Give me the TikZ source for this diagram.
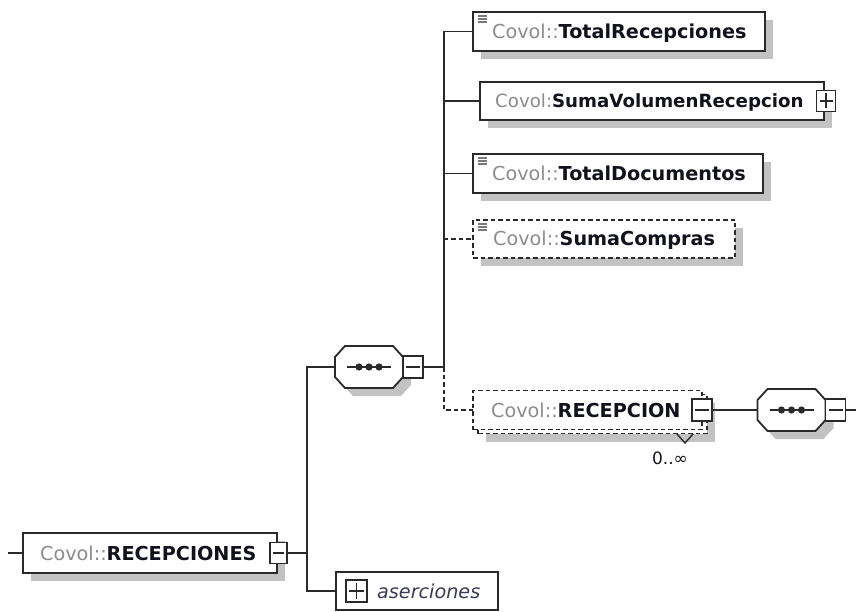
\documentclass[tikz,border=0pt]{standalone}
\usepackage{fontspec}
\setmainfont{DejaVu Sans}
\usetikzlibrary{shadows}
\definecolor{linec}{HTML}{2A2A2A}
\definecolor{shadowc}{HTML}{C2C2C2}
\definecolor{prefc}{HTML}{8C8C8C}
\definecolor{namec}{HTML}{12121C}
\definecolor{asc}{HTML}{3A3A52}
\definecolor{iconc}{HTML}{7A7A7A}
\newcommand\pfx[1]{\textcolor{prefc}{#1}}
\newcommand\elname[1]{\textcolor{namec}{\bfseries #1}}
\begin{document}
\begin{tikzpicture}[x=1pt,y=-1pt,
  conn/.style={draw=linec, line width=1.8pt},
  optline/.style={dash pattern=on 4.5pt off 3pt},
  shad/.style={drop shadow={shadow xshift=8pt, shadow yshift=-8pt, fill=shadowc, opacity=1}},
  plainbox/.style={draw=linec, fill=white, line width=1.8pt, rectangle, inner sep=0pt, outer sep=0pt},
  elbox/.style={plainbox, shad},
  optbox/.style={plainbox, optline},
  lbl/.style={anchor=base west, inner sep=0pt, font=\fontsize{19.2}{22}\selectfont},
  anchorbox/.style={rectangle, draw=none, inner sep=0pt, outer sep=0pt},
  seqshape/.style={draw=linec, fill=white, line width=1.8pt, shad},
  mbox/.style={plainbox, line width=1.6pt, minimum width=20pt, minimum height=22pt,
    path picture={\draw[linec, line width=1.4pt] ([xshift=3pt]path picture bounding box.west) -- ([xshift=-3pt]path picture bounding box.east);}},
  pbox/.style={mbox,
    path picture={\draw[linec, line width=1.4pt] ([xshift=3pt]path picture bounding box.west) -- ([xshift=-3pt]path picture bounding box.east)
      ([yshift=-3pt]path picture bounding box.north) -- ([yshift=3pt]path picture bounding box.south);}},
  iconln/.style={draw=iconc, line width=1.4pt}
]
\useasboundingbox (0,0) rectangle (856,612);

% --- element boxes ---
\node[elbox, minimum width=292pt, minimum height=39pt] (tr) at (619,31.5) {};
\node[lbl] (trt) at (492,38.5) {\pfx{Covol::}\elname{TotalRecepciones}};

\node[elbox, minimum width=344pt, minimum height=38pt] (sv) at (652,101) {};
\node[lbl, font=\fontsize{18.2}{22}\selectfont] (svt) at (495,108) {\pfx{Covol:}\elname{SumaVolumenRecepcion}};
\node[pbox, minimum width=19pt, minimum height=21pt] (svp) at (826,101) {};

\node[elbox, minimum width=290pt, minimum height=39pt] (td) at (618,173.5) {};
\node[lbl] (tdt) at (492,180.5) {\pfx{Covol::}\elname{TotalDocumentos}};

\node[optbox, shad, minimum width=262pt, minimum height=38pt] (sc) at (604,239) {};
\node[lbl] (sct) at (493,246) {\pfx{Covol::}\elname{SumaCompras}};

\node[optbox, shad, minimum width=229pt, minimum height=39pt] (rcb) at (592.5,414) {};
\node[optbox, minimum width=229pt, minimum height=39pt] (rc) at (587.5,410) {};
\node[lbl] (rct) at (491,417) {\pfx{Covol::}\elname{RECEPCION}};
\node[mbox] (rcm) at (702,410) {};
\coordinate (chv) at (685,443);
\draw[linec, line width=1.4pt] ([xshift=-8pt,yshift=9pt]chv) -- (chv) -- ([xshift=8pt,yshift=9pt]chv);
\node[font=\fontsize{17}{20}\selectfont, text=namec, inner sep=0pt] (occ) at (670,458) {0..∞};

\node[elbox, minimum width=254pt, minimum height=40pt] (rcs) at (150,553) {};
\node[lbl] (rcst) at (40,560) {\pfx{Covol::}\elname{RECEPCIONES}};
\node[mbox, minimum width=17pt, minimum height=21pt] (rcsm) at (278.5,553) {};

\node[plainbox, minimum width=162pt, minimum height=38pt] (as) at (417,591) {};
\node[pbox, minimum width=21pt, minimum height=22pt] (asp) at (356.5,591) {};
\node[lbl, text=asc] (ast) at (377,598) {\itshape aserciones};

% --- icons ---
\foreach \n in {tr,td,sc}{
  \foreach \k in {0,1,2}{
    \draw[iconln] ([xshift=4.5pt,yshift={-4pt-3pt*\k}]\n.north west) -- ++(9,0);
  }
}

% --- sequence compositors ---
\foreach \s/\cx/\cy in {s1/369/367, s2/791.5/410}{
  \node[anchorbox, minimum width=68pt, minimum height=42pt] (\s) at (\cx,\cy) {};
  \draw[seqshape] ([xshift=10pt]\s.north west) -- ([xshift=-10pt]\s.north east) -- ([yshift=-11pt]\s.north east)
    -- ([yshift=11pt]\s.south east) -- ([xshift=-10pt]\s.south east) -- ([xshift=10pt]\s.south west)
    -- ([yshift=11pt]\s.south west) -- ([yshift=-11pt]\s.north west) -- cycle;
  \draw[conn] ([xshift=12pt]\s.west) -- ([xshift=-12pt]\s.east);
  \fill[linec] (\s.center) circle (3.6pt) ([xshift=-10pt]\s.center) circle (3.6pt) ([xshift=10pt]\s.center) circle (3.6pt);
  \node[mbox, anchor=west] (\s m) at (\s.east) {};
}

% --- connectors ---
\coordinate (bus1) at (444,367);
\draw[conn] (s1m.east) -- (bus1);
\draw[conn] (bus1) |- (tr.west);
\draw[conn] (bus1) |- (sv.west);
\draw[conn] (bus1) |- (td.west);
\draw[conn, optline] (bus1) |- (sc.west);
\draw[conn, optline] (bus1) |- (rc.west);

\coordinate (bus0) at (307,553);
\draw[conn] (rcsm.east) -- (bus0);
\draw[conn] (bus0) |- (s1.west);
\draw[conn] (bus0) |- (as.west);
\coordinate (in0) at (8,553);
\draw[conn] (in0) -- (rcs.west);
\draw[conn] (rcm.east) -- (s2.west);
\coordinate (out2) at (856,410);
\draw[conn] (s2m.east) -- (out2);
\end{tikzpicture}
\end{document}
